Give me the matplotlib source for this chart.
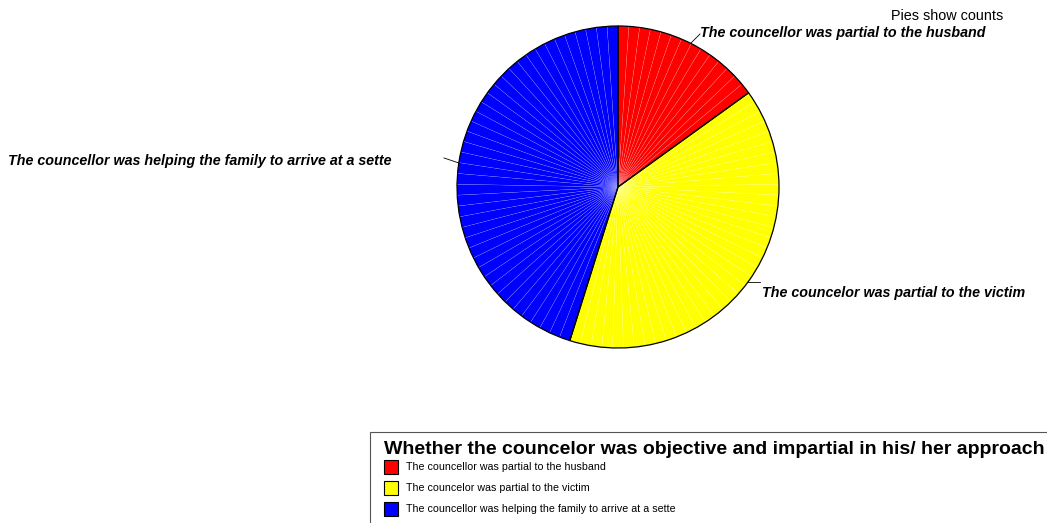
import matplotlib
matplotlib.use("Agg")
import matplotlib.pyplot as plt
from matplotlib.patches import Rectangle
from matplotlib.lines import Line2D

plt.rcParams['font.family'] = ['Liberation Sans', 'DejaVu Sans']

categories = ["The councellor was partial to the husband",
              "The councelor was partial to the victim",
              "The councellor was helping the family to arrive at a sette"]
counts = [14, 37, 42]
colors = ["#ff0000", "#ffff00", "#0000ff"]
legend_title = "Whether the councelor was objective and impartial in his/ her approach"
note = "Pies show counts"

W, H = 1047, 523
fig = plt.figure(figsize=(W / 100, H / 100), dpi=100)

cx, cy, r = 618, 187, 161
ax = fig.add_axes([(cx - r) / W, (H - cy - r) / H, 2 * r / W, 2 * r / H])
ax.set_aspect('equal')

# one thin wedge per case
unit_vals, unit_cols = [], []
for c, col in zip(counts, colors):
    unit_vals += [1] * c
    unit_cols += [col] * c
ax.pie(unit_vals, colors=unit_cols, startangle=90, counterclock=False,
       wedgeprops=dict(edgecolor=(1, 1, 1, 0.3), linewidth=0.25))
ax.pie(counts, colors=['none'] * 3, startangle=90, counterclock=False,
       wedgeprops=dict(edgecolor='black', linewidth=0.9, fill=False))
ax.set_xlim(-1.0, 1.0)
ax.set_ylim(-1.0, 1.0)
ax.axis('off')

def px(x, y):
    return (x / W, 1 - y / H)

# callout labels
lab_font = dict(fontsize=10.3, fontweight='bold', fontstyle='italic', color='black')
fig.add_artist(Line2D([691 / W, 700 / W], [1 - 43 / H, 1 - 34 / H], color='black', lw=0.6, transform=fig.transFigure))
fig.text(*px(700, 33), categories[0], ha='left', va='center', **lab_font)
fig.add_artist(Line2D([748 / W, 760 / W], [1 - 282 / H, 1 - 282 / H], color='black', lw=0.6, transform=fig.transFigure))
fig.text(*px(762, 293), categories[1], ha='left', va='center', **lab_font)
fig.add_artist(Line2D([444 / W, 459 / W], [1 - 158 / H, 1 - 163 / H], color='black', lw=0.6, transform=fig.transFigure))
fig.text(*px(392, 161), categories[2], ha='right', va='center', **lab_font)

fig.text(*px(1003, 16), note, ha='right', va='center', fontsize=10.4)

# legend
fig.add_artist(Rectangle(px(370, 540), 700 / W, 108 / H, transform=fig.transFigure,
                         facecolor='white', edgecolor='#555555', lw=0.8))
fig.text(*px(384, 450), legend_title, ha='left', va='center', fontsize=14.0, fontweight='bold')
for i, (cat, col) in enumerate(zip(categories, colors)):
    y = 467 + 21 * i
    fig.add_artist(Rectangle(px(384, y + 7), 14 / W, 14 / H, transform=fig.transFigure,
                             facecolor=col, edgecolor='black', lw=0.8))
    fig.text(*px(406, y), cat, ha='left', va='center', fontsize=7.7)

fig.savefig("out.png", dpi=100)
